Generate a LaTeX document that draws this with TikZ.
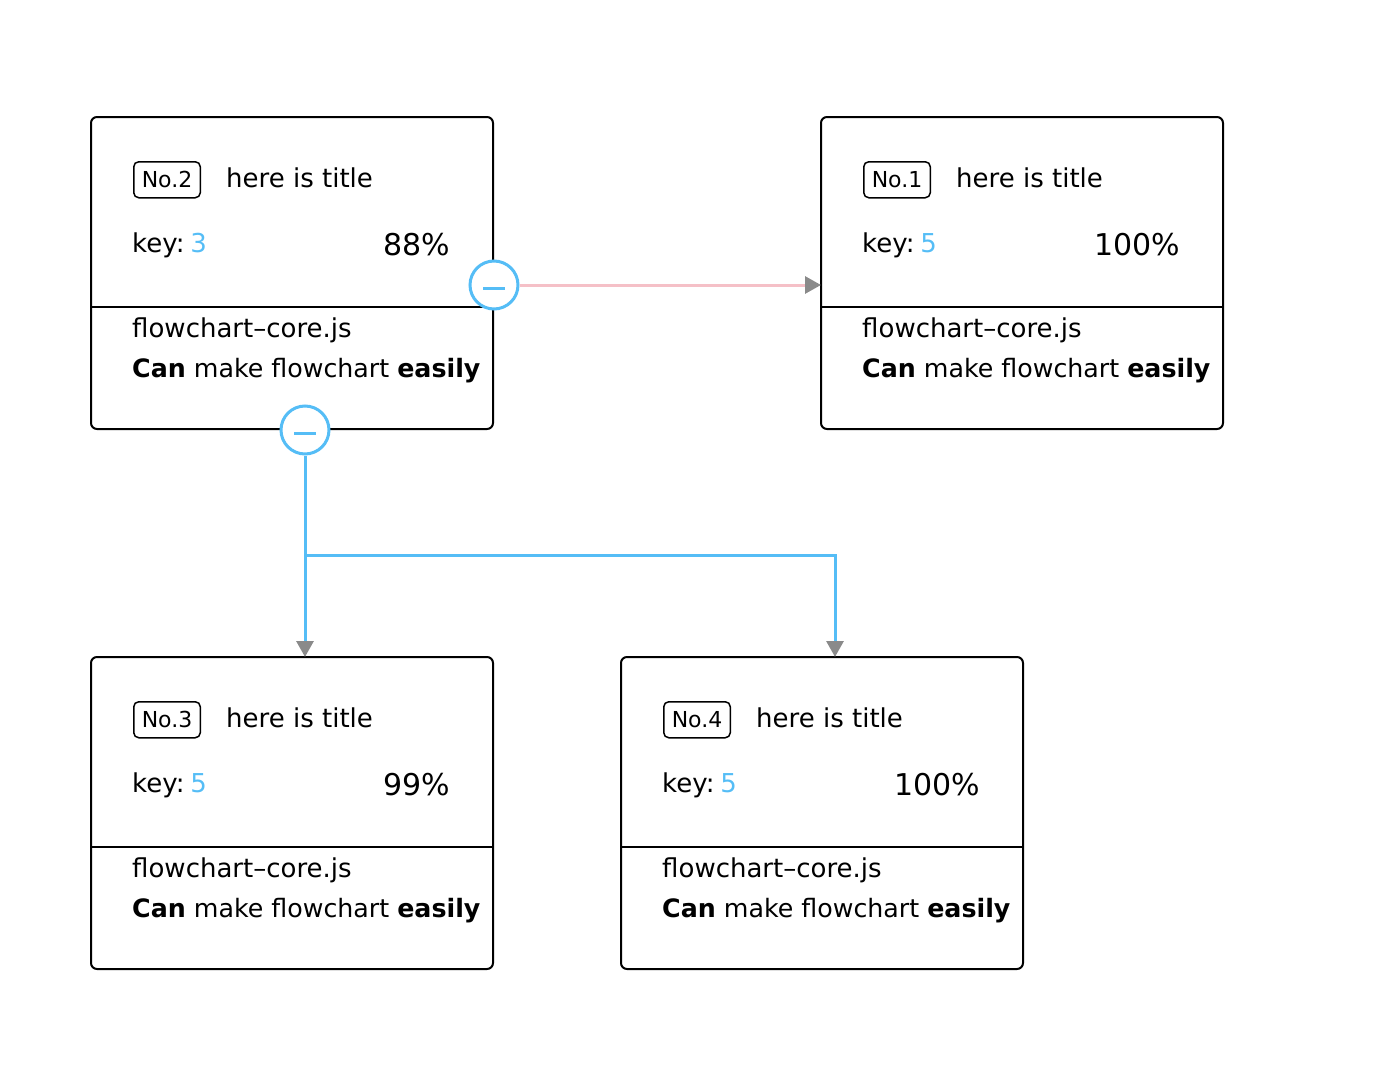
\documentclass[tikz,border=0pt]{standalone}
\usepackage{fontspec}
\setmainfont{DejaVu Sans}
\usetikzlibrary{arrows.meta,calc}
\definecolor{fblue}{HTML}{55BDF6}
\definecolor{fpink}{HTML}{F5C0C7}
\definecolor{fgray}{HTML}{8A8A8A}
\newcommand\mycard[6]{%
  \node[card,anchor=north west] (#1) at (#2,#3) {};
  \draw[divider] ($(#1.north west)+(0,190)$) -- ($(#1.north east)+(0,190)$);
  \node[badge,anchor=north west] (#1no) at ($(#1.north west)+(42,44)$) {No.#4};
  \node[txt,anchor=base west] (#1title) at ($(#1no.base east)+(25,0)$) {here is title};
  \node[txt,anchor=base west] (#1key) at ($(#1.north west)+(41,135)$) {key:\hspace{0.22em}\textcolor{fblue}{#5}};
  \node[pct,anchor=base east] (#1pct) at ($(#1.north east)+(-43,138)$) {#6\%};
  \node[txt,anchor=base west] (#1lib) at ($(#1.north west)+(41,220)$) {flowchart–core.js};
  \node[desc,anchor=base west] (#1desc) at ($(#1.north west)+(41,260)$) {\textbf{Can} make flowchart \textbf{easily}};
}
\begin{document}
\begin{tikzpicture}[x=1pt,y=-1pt,
  card/.style={draw=black,line width=2pt,rounded corners=6pt,minimum width=402pt,minimum height=312pt,inner sep=0pt,outer sep=0pt},
  divider/.style={draw=black,line width=2pt},
  badge/.style={draw=black,line width=1.5pt,rounded corners=5pt,minimum height=36pt,inner xsep=8pt,inner ysep=0pt,font=\fontsize{22}{24}\selectfont},
  txt/.style={inner sep=0pt,font=\fontsize{26}{30}\selectfont},
  desc/.style={inner sep=0pt,font=\fontsize{25.3}{30}\selectfont},
  pct/.style={inner sep=0pt,font=\fontsize{30}{34}\selectfont},
  minus/.style={circle,draw=fblue,line width=3pt,fill=white,minimum size=48pt,inner sep=0pt,
    path picture={\draw[fblue,line width=3pt] ($(path picture bounding box.center)+(-11,3)$) -- ($(path picture bounding box.center)+(11,3)$);}},
  link/.style={line width=3pt},
  tip/.style={-{Triangle[length=16pt,width=17pt,fgray]}}
]
\useasboundingbox (0,0) rectangle (1384,1068);
\mycard{n2}{91}{117}{2}{3}{88}
\mycard{n1}{821}{117}{1}{5}{100}
\mycard{n3}{91}{657}{3}{5}{99}
\mycard{n4}{621}{657}{4}{5}{100}
\node[minus] (m1) at (494,285) {};
\node[minus] (m2) at (305,430) {};
\coordinate (j) at (305,555);
\coordinate (t4) at (835,657);
\draw[link,fpink,tip] (m1) -- (m1 -| n1.west);
\draw[link,fblue,tip] (m2) -- (m2 |- n3.north);
\draw[link,fblue,tip] (j) -| (t4);
\end{tikzpicture}
\end{document}
